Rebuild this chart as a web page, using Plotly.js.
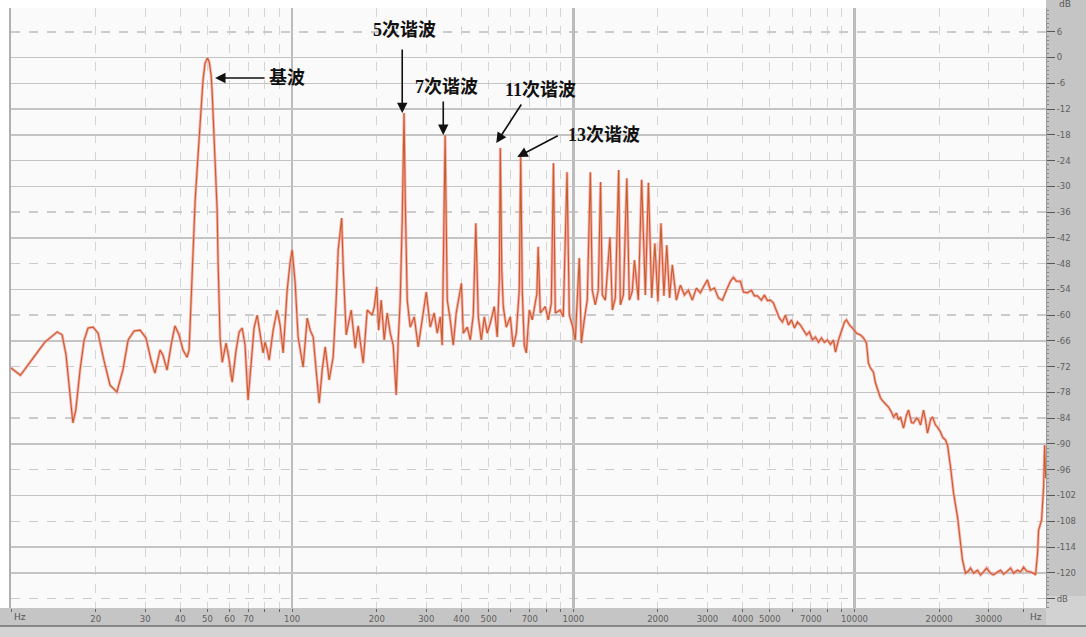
<!DOCTYPE html>
<html>
<head>
<meta charset="utf-8">
<script src="https://cdn.plot.ly/plotly-3.0.1.min.js"></script>
<style>html,body{margin:0;padding:0;background:#fff;}#chart{width:1086px;height:637px;}</style>
</head>
<body>
<div id="chart"></div>
<script>
// Spectrum values (frequency in Hz, level in dB)
const freq = [
10,10.8,12.2,13.2,14.6,15.2,15.7,16.2,16.6,17.0,17.6,18.2,18.8,19.6,20.4,21.4,22.5,23.8,25.0,26.1,27.4,28.8,30.2,31.5,32.5,33.9,34.7,35.9,37.1,38.3,39.6,40.9,42.3,43.0,
43.7,44.4,45.2,45.9,46.7,47.4,48.2,49.0,50,50.7,51.5,51.9,52.8,53.6,54.1,54.5,55.0,55.4,56.4,
58.2,59.7,61.2,63.2,64.8,66.4,68.0,69.7,71.5,73.2,75.1,76.9,78.8,80.1,81.5,82.8,85.6,88.4,90.6,92.9,96.0,98.4,100,102.5,105,109.4,113.1,115.9,118.8,121.7,124.8,127.9,131.1,135.4,139.9,143.4,145.8,150,151.9,155.7,162.2,167.6,171.7,178.9,184.9,192.6,196,200,203,207.4,212.5,217.8,223.3,228.8,234.5,238.4,242.3,246.3,250,252.5,256.6,263,271.8,280.7,290,300,309.8,320.1,328.1,336.3,341.8,350,356.2,365.0,374.1,383.3,400,406,419.6,430,440.7,450,459.2,470.6,482.4,494.3,506.5,523.4,536.4,545.5,550,556.7,563.5,577.5,596.8,611.6,626.9,642.4,650,658.4,669.3,680.6,697.6,714.6,742,750,763.1,795.1,814.8,835.1,850,862.9,898.6,921,950,967.8,991.8,1016.5,
1050,1067.8,1094,1121,1150,1168,1197,1227,1250,1268,1300,1350,1377,1411,1450,1470,1507,1550,1582,1620,1650,1703,1750,1804,1850,1900,1950,2000,2050,2100,2150,2200,2250,
2326,2404,2483,2566,2651,2740,2831,2926,2999,3073,3176,3281,3390,3504,3621,3711,3803,3929,4027,4161,4300,4407,4516,4667,4783,4902,5025,5149,5277,5408,5544,5680,5823,5968,6117,6270,6424,6585,6749,6917,7088,7264,7446,7631,7819,8014,8214,8418,8558,8771,8989,9213,9366,9598,9837,
10165,10504,10765,11033,11215,11402,11685,11877,12177,12378,12685,13000,13213,13540,13765,14108,14340,14580,14940,15310,15565,15954,16218,16620,16898,17180,17606,17890,18190,18640,18950,19420,19741,20230,20570,21080,21430,
21963,22510,23257,23837,24230,24830,25450,25871,26520,27395,28080,28770,29500,30480,31240,32280,33080,33900,34740,35920,36800,38030,38970,39950,40940,42300,43350,44070,44800,45170,46300,47070,47460,47850
];
const level = [
-72.3,-74.0,-69.3,-66.3,-63.9,-64.6,-69.3,-78.6,-85.1,-82.1,-72.8,-65.8,-63.0,-62.8,-64.2,-70.5,-76.3,-77.9,-72.8,-65.8,-63.7,-63.5,-65.3,-70.5,-73.5,-68.1,-69.3,-72.8,-67.0,-62.5,-64.6,-68.1,-69.8,-68.1,
-56.5,-44.8,-33.1,-26.2,-18.5,-11.8,-5.2,-1.3,-0.1,-1.0,-4.1,-7.6,-18.5,-28.5,-35.5,-47.2,-56.5,-65.1,-71.0,
-66.5,-70.5,-75.6,-68.1,-63.9,-63.0,-67.0,-79.8,-70.5,-63.0,-60.0,-64.6,-68.8,-66.3,-68.1,-70.5,-63.5,-58.8,-62.3,-68.8,-54.2,-47.6,-44.8,-52.5,-65.1,-72.1,-60.7,-63.5,-65.1,-72.8,-80.5,-72.8,-67.4,-75.1,-69.8,-56.5,-44.8,-37.4,-48.8,-64.6,-58.8,-67.7,-62.5,-71.2,-58.8,-60.0,-58.0,-53.4,-63.5,-56.5,-65.8,-59.5,-64.2,-67.0,-78.6,-65.8,-56.5,-37.9,-12.9,-33.2,-56.5,-62.8,-60.4,-67.4,-61.1,-54.6,-62.8,-59.5,-64.2,-60.4,-67.0,-18.1,-56.5,-61.1,-67.0,-59.5,-52.6,-64.2,-62.8,-65.8,-60.0,-38.6,-60.4,-65.8,-60.4,-64.2,-61.9,-58.0,-65.1,-51.8,-21.1,-49.5,-58.0,-62.8,-60.4,-67.4,-64.2,-54.2,-23.2,-54.2,-67.0,-68.8,-58.8,-61.1,-55.0,-44.1,-59.5,-58.0,-61.1,-57.2,-24.6,-59.5,-58.8,-60.4,-26.7,-60.0,-62.3,-65.8,
-46.7,-66.5,-61.1,-56.5,-26.7,-54.2,-57.6,-54.2,-29.0,-55.3,-56.5,-41.8,-58.8,-56.0,-26.2,-57.6,-55.3,-28.1,-56.5,-54.5,-47.2,-56.5,-28.5,-55.3,-29.2,-56.0,-43.3,-56.8,-38.6,-55.5,-43.7,-56.0,-48.3,
-56.5,-53.0,-55.3,-54.2,-56.5,-53.7,-54.8,-53.0,-51.8,-54.2,-53.7,-56.0,-56.5,-54.2,-52.1,-51.2,-52.1,-52.1,-54.6,-54.8,-54.2,-55.5,-55.5,-56.5,-55.3,-56.6,-56.5,-57.2,-58.8,-60.7,-61.6,-60.0,-62.3,-61.1,-63.0,-61.6,-62.3,-63.5,-64.6,-63.9,-65.8,-65.1,-66.3,-65.3,-66.3,-65.8,-66.8,-65.8,-68.6,-65.8,-63.5,-61.6,-61.1,-62.3,-63.0,
-64.2,-64.6,-65.3,-66.5,-71.2,-72.3,-73.3,-75.8,-78.1,-79.3,-80.2,-80.9,-81.4,-82.6,-83.7,-82.8,-84.4,-83.7,-86.3,-83.3,-82.1,-85.0,-85.1,-84.0,-84.4,-85.6,-82.1,-84.4,-87.5,-84.4,-83.7,-85.6,-86.1,-87.2,-88.4,-89.1,-90.3,
-95.4,-101.4,-107.0,-112.4,-117.1,-120.1,-119.6,-118.9,-120.1,-119.4,-120.5,-119.8,-118.9,-120.1,-120.5,-119.8,-119.4,-120.3,-119.8,-118.9,-120.1,-119.4,-119.8,-118.7,-119.6,-119.8,-120.1,-120.5,-115.4,-110.1,-107.7,-100.0,-90.3,-98.0
];

// Axis ticks
const xTickVals = [10,20,30,40,50,60,70,80,90,100,200,300,400,500,600,700,800,900,1000,2000,3000,4000,5000,6000,7000,8000,9000,10000,20000,30000,40000];
const xTickText = ['','20','30','40','50','60','70','','','100','200','300','400','500','','700','','','1000','2000','3000','4000','5000','','7000','','','10000','20000','30000',''];
const xDecades = [100,1000,10000];
const yTickVals = [6,0,-6,-12,-18,-24,-30,-36,-42,-48,-54,-60,-66,-72,-78,-84,-90,-96,-102,-108,-114,-120,-126];
const yTickText = ['6','0','-6','-12','-18','-24','-30','-36','-42','-48','-54','-60','-66','-72','-78','-84','-90','-96','-102','-108','-114','-120','dB'];
const ySolid = [-6,-18,-30,-42,-54,-66,-78,-90,-102,-114,-120,0,-12,-24];

// Labels for the harmonics
const labelText = ['基波','5次谐波','7次谐波','11次谐波','13次谐波'];
const labelX = [1.9804, 2.4004, 2.5498, 2.8843, 3.1085]; // log10(Hz)
const labelY = [-4.78, 6.41, -6.87, -7.57, -18.05];
const arrowX = [1.7260, 2.3915, 2.5374, 2.7260, 2.8007];
const arrowY = [-4.78, -12.93, -18.05, -19.92, -23.18];
const arrowAX = [51, 0, 0, 26, 42];
const arrowAY = [0, -65, -35, -40, -22];

const xr = [1, Math.log10(48000)];
const yr = [-128.2, 11.53];

const traces = [
  {x: freq, y: level, type: 'scatter', mode: 'lines', line: {color: 'rgba(255,150,150,0.8)', width: 2.8}, hoverinfo: 'skip'},
  {x: freq, y: level, type: 'scatter', mode: 'lines', line: {color: '#c2602a', width: 1.1}, hoverinfo: 'skip'},
  {x: [], y: [], xaxis: 'x2', yaxis: 'y2', type: 'scatter', mode: 'lines', hoverinfo: 'skip'}
];

const annotations = [];
for (let i = 0; i < labelText.length; i++) {
  annotations.push({x: labelX[i], y: labelY[i], xref: 'x', yref: 'y', text: labelText[i], showarrow: false,
    xanchor: 'center', yanchor: 'middle',
    font: {family: "'Liberation Serif','Noto Sans CJK SC',serif", size: 18, color: '#111', weight: 'bold'}});
  annotations.push({x: arrowX[i], y: arrowY[i], xref: 'x', yref: 'y', text: '', showarrow: true,
    ax: arrowAX[i], ay: arrowAY[i], arrowhead: 2, arrowsize: 1.3, arrowwidth: 1.6, arrowcolor: '#111', standoff: 0});
}
annotations.push({x: (12-11)/1035, y: (608-617)/600, xref: 'paper', yref: 'paper', text: 'Hz', showarrow: false, xanchor: 'left', yanchor: 'middle', font: {family: 'DejaVu Sans', size: 9, color: '#555'}});
annotations.push({x: (1036-11)/1035, y: (608-617)/600, xref: 'paper', yref: 'paper', text: 'Hz', showarrow: false, xanchor: 'center', yanchor: 'middle', font: {family: 'DejaVu Sans', size: 9, color: '#555'}});
annotations.push({x: (1057-11)/1035, y: (608-4)/600, xref: 'paper', yref: 'paper', text: 'dB', showarrow: false, xanchor: 'left', yanchor: 'middle', font: {family: 'DejaVu Sans', size: 9, color: '#555'}});

const shapes = [
  {type: 'rect', xref: 'paper', yref: 'paper', x0: 1.0, x1: (1086-11)/1035, y0: (608-637)/600, y1: 608/600, fillcolor: '#c5c5c5', line: {width: 0}, layer: 'below'},
  {type: 'rect', xref: 'paper', yref: 'paper', x0: -11/1035, x1: 1.0, y0: (608-625)/600, y1: 0, fillcolor: '#c5c5c5', line: {width: 0}, layer: 'below'},
  {type: 'rect', xref: 'paper', yref: 'paper', x0: -11/1035, x1: (1086-11)/1035, y0: (608-637)/600, y1: (608-626)/600, fillcolor: '#d4d4d4', line: {width: 0}, layer: 'below'},
  {type: 'line', xref: 'paper', yref: 'paper', x0: -11/1035, x1: (1086-11)/1035, y0: (608-626)/600, y1: (608-626)/600, line: {color: '#888', width: 2}, layer: 'below'},
  {type: 'rect', xref: 'paper', yref: 'paper', x0: 1.0, x1: (1086-11)/1035, y0: (608-625)/600, y1: (608-596)/600, fillcolor: '#d2d2d2', line: {width: 0}, layer: 'below'}
];

const tickFont = {family: 'DejaVu Sans', size: 8.5, color: '#606060'};

const layout = {
  width: 1086, height: 637,
  margin: {l: 11, r: 40, t: 8, b: 29, pad: 0},
  paper_bgcolor: '#ffffff',
  plot_bgcolor: '#fafafa',
  showlegend: false,
  xaxis: {type: 'log', range: xr, tickmode: 'array', tickvals: xTickVals, ticktext: xTickText,
    showgrid: true, gridcolor: '#d4d4d4', griddash: 'dash', gridwidth: 1,
    ticks: 'outside', ticklen: 3, tickcolor: '#666', tickfont: tickFont, zeroline: false, showline: false, fixedrange: true},
  xaxis2: {type: 'log', range: xr, overlaying: 'x', anchor: 'y2', tickmode: 'array', tickvals: xDecades,
    showticklabels: false, ticks: '', showgrid: true, gridcolor: '#bcbcbc', gridwidth: 2.5, zeroline: false, showline: false},
  yaxis: {range: yr, side: 'right', tickmode: 'array', tickvals: yTickVals, ticktext: yTickText,
    showgrid: true, gridcolor: '#cbcbcb', griddash: 'dash', gridwidth: 1.5,
    ticks: 'outside', ticklen: 8, tickcolor: '#555', tickfont: tickFont, zeroline: false, showline: true, linecolor: '#9a9a9a', linewidth: 1,
    minor: {dtick: 1, ticks: 'outside', ticklen: 2, tickcolor: '#888', showgrid: false}, fixedrange: true},
  yaxis2: {range: yr, overlaying: 'y', anchor: 'x2', side: 'left', tickmode: 'array', tickvals: ySolid,
    showticklabels: false, ticks: '', showgrid: true, gridcolor: '#c4c4c4', gridwidth: 1.5, zeroline: false,
    showline: true, linecolor: '#b0b0b0', linewidth: 2},
  annotations: annotations,
  shapes: shapes
};

Plotly.newPlot('chart', traces, layout, {staticPlot: true, displayModeBar: false});
</script>
</body>
</html>
